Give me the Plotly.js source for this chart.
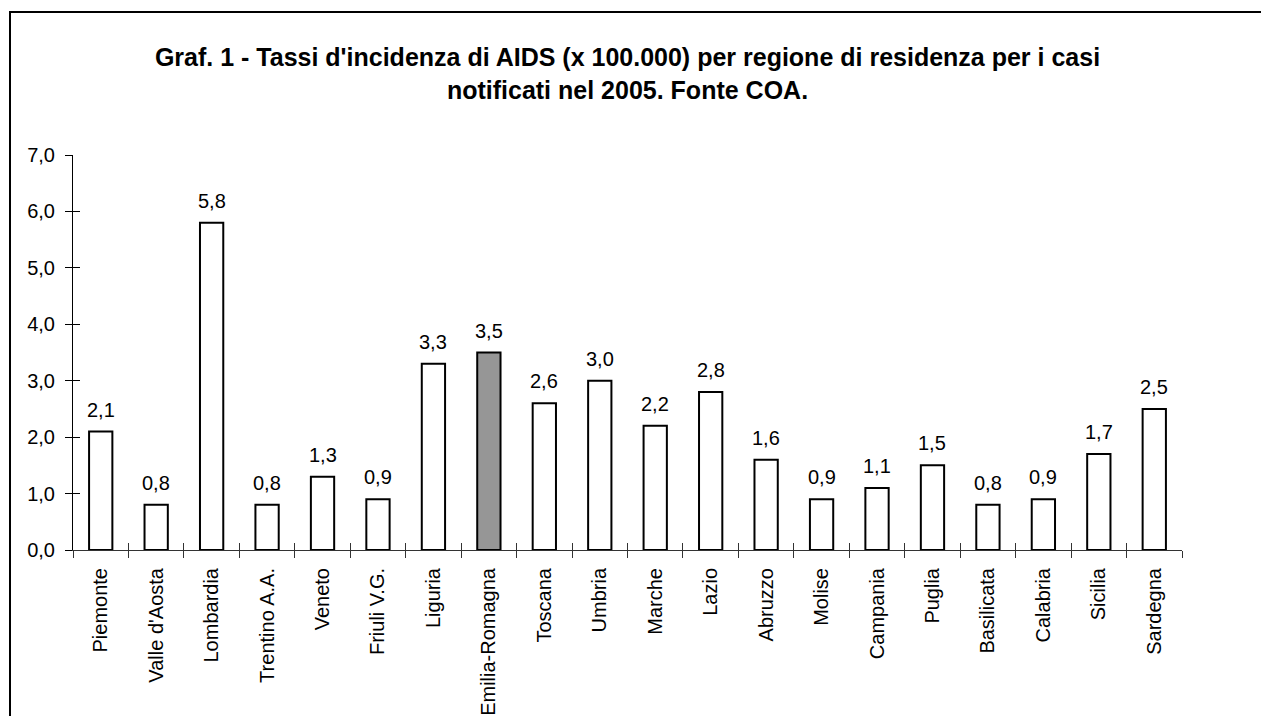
<!DOCTYPE html>
<html>
<head>
<meta charset="utf-8">
<script src="https://cdn.plot.ly/plotly-3.0.1.min.js"></script>
<style>
  html, body { margin: 0; padding: 0; background: #fff; }
  #frame { position: absolute; left: 9px; top: 11px; width: 1400px; height: 900px;
           border: 2px solid #000; box-sizing: border-box; }
  #chart { position: absolute; left: 0; top: 0; width: 1261px; height: 716px; }
</style>
</head>
<body>
<div id="frame"></div>
<div id="chart"></div>
<script>
const regions = ["Piemonte", "Valle d'Aosta", "Lombardia", "Trentino A.A.", "Veneto", "Friuli V.G.",
  "Liguria", "Emilia-Romagna", "Toscana", "Umbria", "Marche", "Lazio", "Abruzzo", "Molise",
  "Campania", "Puglia", "Basilicata", "Calabria", "Sicilia", "Sardegna"];
const rates = [2.1, 0.8, 5.8, 0.8, 1.3, 0.9, 3.3, 3.5, 2.6, 3.0, 2.2, 2.8, 1.6, 0.9, 1.1, 1.5, 0.8, 0.9, 1.7, 2.5];
const yTicks = [0, 1, 2, 3, 4, 5, 6, 7];
const highlighted = "Emilia-Romagna";
const chartTitle = "Graf. 1 - Tassi d'incidenza di AIDS (x 100.000) per regione di residenza per i casi<br>notificati nel 2005. Fonte COA.";

const FONT = "Liberation Sans, Arial, sans-serif";
const colors = regions.map(r => r === highlighted ? "#969696" : "#ffffff");
const boundaries = [];
for (let i = 0; i <= regions.length; i++) boundaries.push(i - 0.5);

const trace = {
  type: "bar",
  x: regions,
  y: rates,
  marker: { color: colors, line: { color: "#000", width: 2 } },
  hoverinfo: "none"
};

const labels = regions.map((r, i) => ({
  x: r, y: rates[i], xref: "x", yref: "y",
  text: rates[i].toFixed(1).replace(".", ","),
  showarrow: false, yanchor: "bottom", xanchor: "center", yshift: 9,
  font: { family: FONT, size: 20, color: "#000" }
}));

const layout = {
  width: 1261, height: 716,
  paper_bgcolor: "rgba(0,0,0,0)",
  plot_bgcolor: "rgba(0,0,0,0)",
  margin: { l: 73, r: 79, t: 155, b: 166, pad: 0 },
  separators: ",.",
  showlegend: false,
  bargap: 0.58,
  font: { family: FONT, size: 20, color: "#000" },
  title: {
    text: "<b>" + chartTitle + "</b>",
    font: { family: FONT, size: 25, color: "#000" },
    xref: "paper", x: 0.5, xanchor: "center",
    yref: "container", y: 1 - 66 / 716, yanchor: "middle"
  },
  annotations: labels,
  xaxis: {
    type: "category",
    range: [-0.5, regions.length - 0.5],
    showline: true, linecolor: "#333", linewidth: 1,
    ticks: "outside", tickson: "boundaries", ticklen: 7, tickcolor: "#333", tickwidth: 1,
    tickangle: -90,
    tickfont: { family: FONT, size: 20, color: "#000" },
    ticklabelstandoff: 9,
    showgrid: false, zeroline: false, automargin: false, fixedrange: true
  },
  xaxis2: {
    overlaying: "x", anchor: "y",
    type: "linear",
    range: [-0.5, regions.length - 0.5],
    tickmode: "array", tickvals: boundaries, ticktext: boundaries.map(() => ""),
    ticks: "inside", ticklen: 7, tickcolor: "#333", tickwidth: 1,
    showticklabels: false, showline: false, showgrid: false, zeroline: false, fixedrange: true
  },
  yaxis: {
    range: [0, 7],
    tickmode: "array", tickvals: yTicks,
    tickformat: ".1f",
    showline: true, linecolor: "#000", linewidth: 1,
    ticks: "outside", ticklen: 7, tickcolor: "#000", tickwidth: 1,
    tickfont: { family: FONT, size: 20, color: "#000" },
    ticklabelstandoff: 6,
    showgrid: false, zeroline: false, automargin: false, fixedrange: true
  },
  yaxis2: {
    overlaying: "y", anchor: "x",
    range: [0, 7],
    tickmode: "array", tickvals: yTicks, ticktext: yTicks.map(() => ""),
    ticks: "inside", ticklen: 7, tickcolor: "#000", tickwidth: 1,
    showticklabels: false, showline: false, showgrid: false, zeroline: false, fixedrange: true
  }
};

const helper = { type: "scatter", x: [0], y: [0], xaxis: "x2", yaxis: "y2",
  mode: "markers", marker: { opacity: 0 }, hoverinfo: "none", showlegend: false };

Plotly.newPlot("chart", [trace, helper], layout, { staticPlot: true, displayModeBar: false });
</script>
</body>
</html>
